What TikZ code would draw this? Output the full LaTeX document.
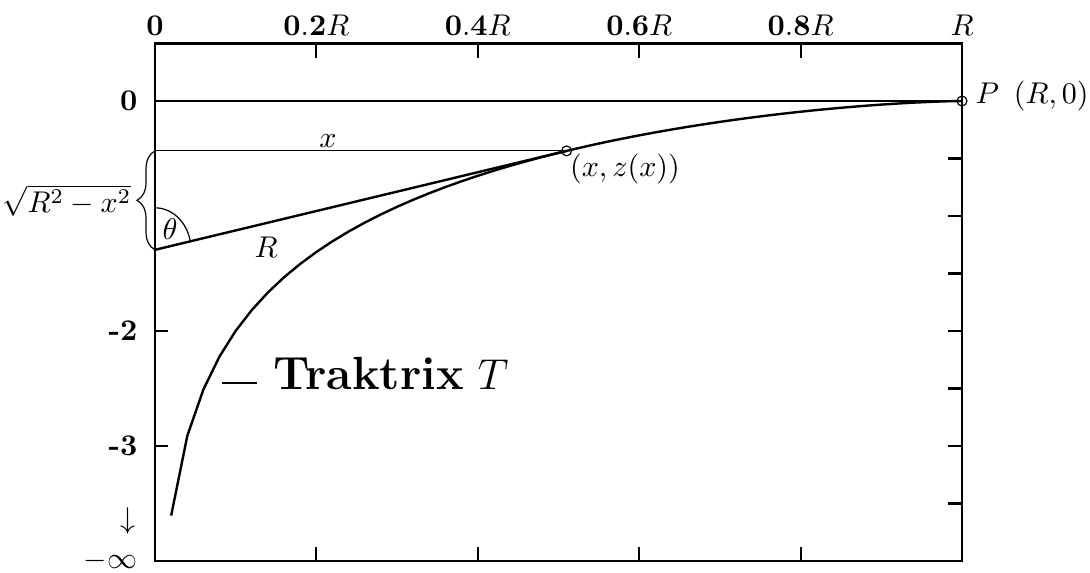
\documentclass[tikz,border=0pt]{standalone}
\usepackage{amsmath}
\usepackage{tikz}
\usetikzlibrary{calc, positioning, decorations.pathreplacing}
\tikzset{
  frame/.style={line width=0.9pt, color=black},
  curve/.style={line width=0.8pt, line join=round},
  tickmark/.style={line width=0.7pt},
  thinline/.style={line width=0.35pt},
  toplabel/.style={anchor=base, inner sep=0pt, yshift=2.7pt},
  leftlabel/.style={anchor=east, inner sep=0pt, xshift=-5.7pt},
  markpt/.style={circle, draw, thin, inner sep=0pt, minimum size=3.3pt},
  brace/.style={decorate, decoration={brace, amplitude=6pt}, thin}
}

\begin{document}
\begin{tikzpicture}[x=269pt, y=38.333pt]
  \useasboundingbox (-0.1921,-4.0957) rectangle (1.1586,0.8783);
  \pgfmathsetmacro{\xp}{0.51}
  \pgfmathsetmacro{\sq}{sqrt(1-\xp*\xp)}
  \pgfmathsetmacro{\zp}{-(ln((1+\sq)/\xp)-\sq)}
  \pgfmathsetmacro{\zb}{\zp-\sq}
  \coordinate (pt) at (\xp,\zp);
  \coordinate (tanO) at (0,\zb);
  \coordinate (P) at (1,0);

  % frame and ticks
  \draw[frame] (0,-4) rectangle (1,0.5);
  \draw[frame] (0,0) -- (P);
  \foreach \x in {0.2,0.4,0.6,0.8} {
    \draw[tickmark] (\x,0.5) -- ++(0,-4.67pt);
    \draw[tickmark] (\x,-4) -- ++(0,4.67pt);
  }
  \foreach \k in {1,...,7}
    \draw[tickmark] (1,-\k/2) -- ++(-4.67pt,0);
  \foreach \y in {-2,-3}
    \draw[tickmark] (0,\y) -- ++(4.33pt,0);

  % axis labels
  \foreach \x/\lab/\n in {0/\textbf{0}/t0, 0.2/$\mathbf{0.2}R$/t2, 0.4/$\mathbf{0.4}R$/t4,
                          0.6/$\mathbf{0.6}R$/t6, 0.8/$\mathbf{0.8}R$/t8, 1/$R$/t10}
    \node[toplabel] (\n) at (\x,0.5) {\lab};
  \node[leftlabel] (l0) at (0,0) {\textbf{0}};
  \node[leftlabel] (l2) at (0,-2) {\textbf{-2}};
  \node[leftlabel] (l3) at (0,-3) {\textbf{-3}};
  \node[leftlabel] (linf) at (0,-4) {$-\infty$};
  \node[inner sep=0pt] (darr) at (-0.0335,-3.648) {$\downarrow$};

  % traktrix
  \draw[curve] plot[domain=0.02:1, samples=50]
    (\x, {-(ln((1+sqrt(max(0,1-\x*\x)))/\x)-sqrt(max(0,1-\x*\x)))});

  % tangent construction
  \draw[curve] (tanO) -- node[pos=0.27, inner sep=0pt, yshift=-7.9pt] (rlab) {$R$} (pt);
  \draw[thinline] (0,\zp) -- node[pos=0.42, above=1pt, inner sep=0pt] (xlab) {$x$} (pt);
  \draw[brace] (tanO) -- node[midway, left=7.7pt, inner sep=0pt] (sqlab) {$\sqrt{R^2-x^2}$} (0,\zp);
  \draw[thin] let \p1 = ($(pt)-(tanO)$), \n1 = {atan2(\y1*12,\x1*14)} in
    ([yshift=14pt]tanO) arc[start angle=90, end angle=\n1, x radius=12pt, y radius=14pt];
  \node[inner sep=0pt] (thlab) at ([shift={(5pt,6.8pt)}]tanO) {$\theta$};

  \node[markpt] (ptmark) at (pt) {};
  \node[markpt] (Pmark) at (P) {};
  \node[anchor=base west, inner sep=0pt] (ptlab) at ([shift={(1pt,-8.5pt)}]pt) {$(x,z(x))$};
  \node[anchor=west, inner sep=0pt] (Plab) at ([shift={(4.3pt,1.7pt)}]P) {$P\enspace(R,0)$};

  % key
  \coordinate (legA) at (0.0830,-2.452);
  \coordinate (legB) at (0.1264,-2.452);
  \draw[thinline] (legA) -- (legB);
  \node[anchor=base west, inner sep=0pt, font=\fontsize{15.5}{18}\selectfont] (trak)
    at ([shift={(5.3pt,-2.3pt)}]legB) {\textbf{Traktrix} $T$};
\end{tikzpicture}
\end{document}
